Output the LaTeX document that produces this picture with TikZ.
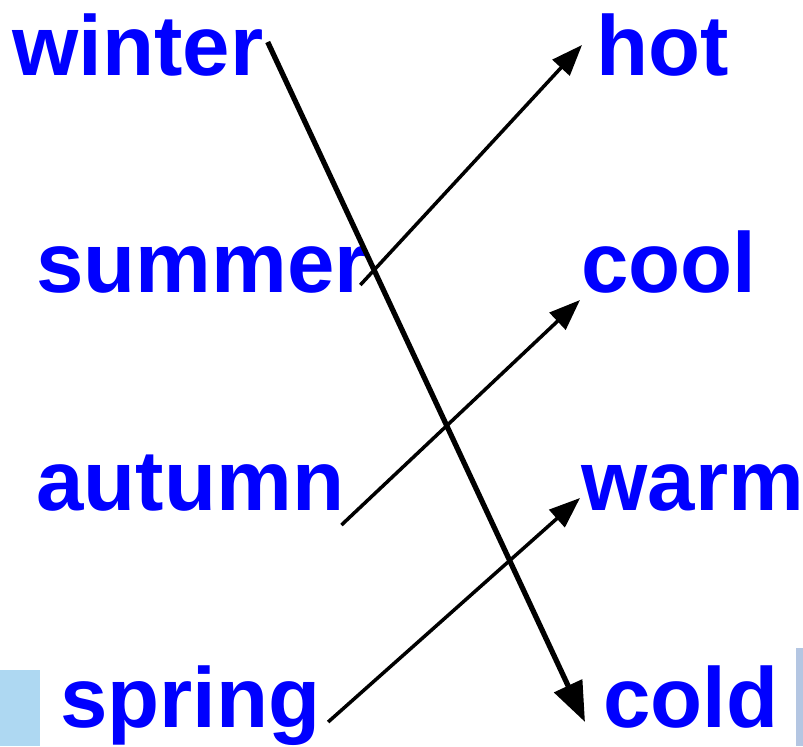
\documentclass[tikz,border=0pt]{standalone}
\usepackage{fontspec}
\setmainfont{Liberation Sans}
\usepackage{xcolor}
\usetikzlibrary{arrows.meta, calc}
\definecolor{wdBlue}{HTML}{0000FF}
\definecolor{edgeL}{HTML}{AED8F2}
\definecolor{edgeR}{HTML}{B4C6E2}

\begin{document}
\begin{tikzpicture}[
  word/.style={anchor=base west, inner sep=0pt, text=wdBlue,
               font=\fontsize{48.5}{58}\selectfont\bfseries},
  arr/.style={-{Triangle[length=0.62cm, width=0.46cm]}, line width=2pt},
  thickarr/.style={-{Triangle[length=0.8cm, width=0.6cm]}, line width=3pt}
]
  \useasboundingbox (0,0) rectangle (16.06,-14.92);
  % side strips
  \fill[edgeL] (0,-13.4) rectangle (0.8,-14.92);
  \fill[edgeR] (15.92,-12.96) rectangle (16.06,-14.92);

  \node[word] (winter) at (0.24,-1.5) {winter};
  \node[word] (summer) at (0.72,-5.84) {summer};
  \node[word] (autumn) at (0.72,-10.2) {autumn};
  \node[word] (spring) at (1.2,-14.54) {spring};
  \node[word] (hot) at (11.92,-1.5) {hot};
  \node[word] (cool) at (11.62,-5.84) {cool};
  \node[word] (warm) at (11.62,-10.2) {warm};
  \node[word] (cold) at (12.06,-14.54) {cold};

  \draw[thickarr] ($(winter.base east)+(0.08,0.66)$) -- ($(cold.base west)+(-0.36,0.1)$);
  \draw[arr] ($(summer.base east)+(-0.16,0.14)$) -- ($(hot.base west)+(-0.28,0.6)$);
  \draw[arr] ($(autumn.base east)+(-0.06,-0.3)$) -- ($(cool.base west)+(-0.02,-0.16)$);
  \draw[arr] ($(spring.base east)+(0.14,0.1)$) -- ($(warm.base west)+(-0.02,0.24)$);
\end{tikzpicture}
\end{document}
